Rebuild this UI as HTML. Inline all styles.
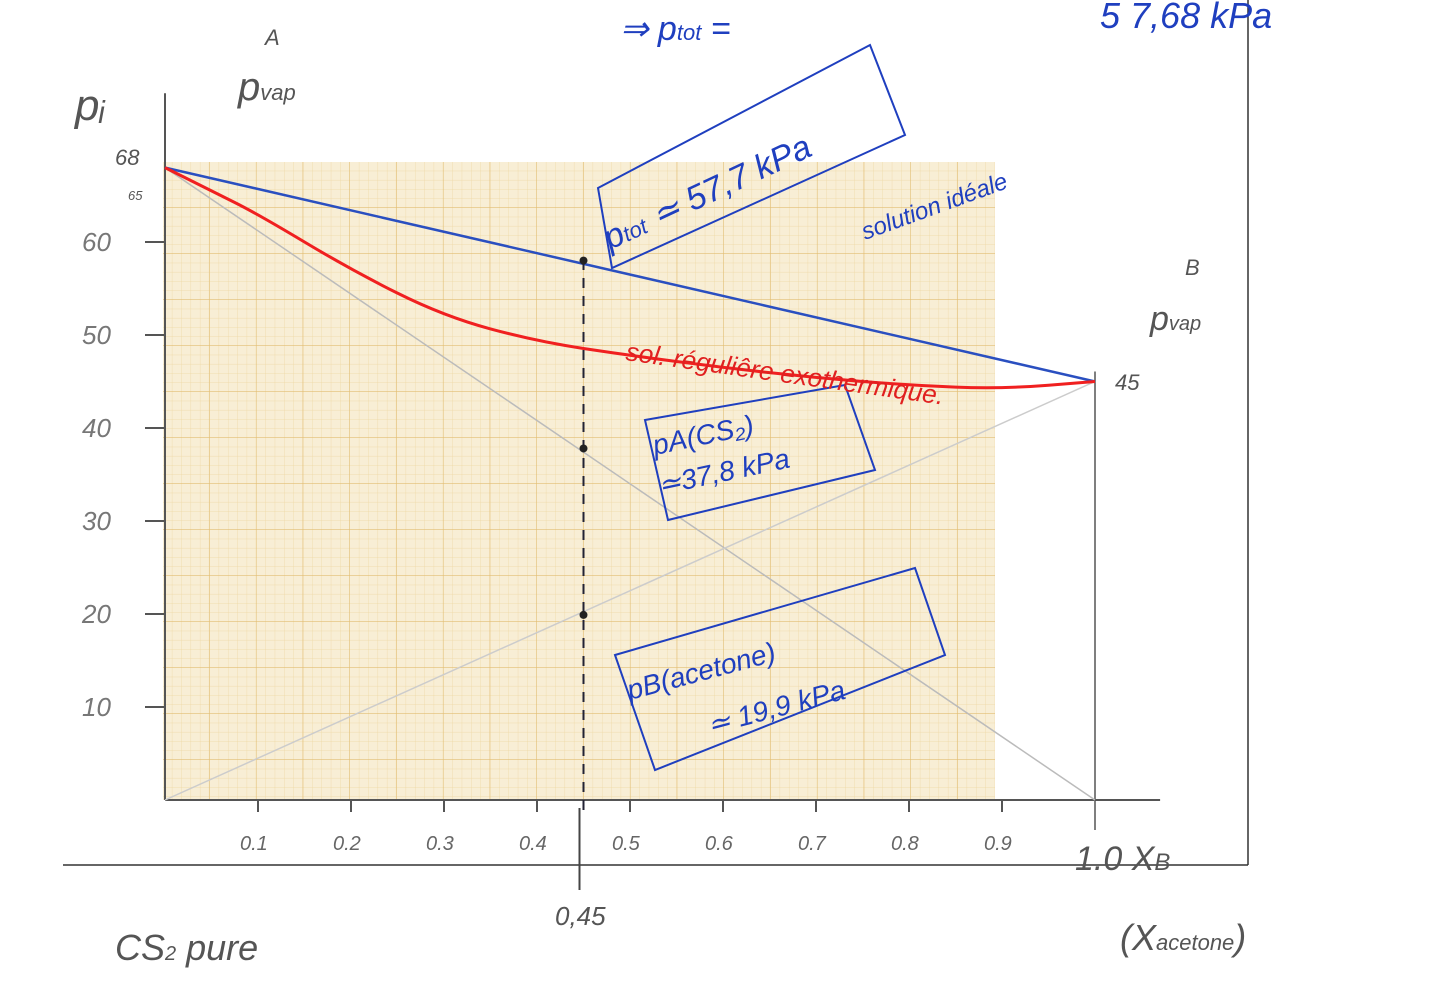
<!DOCTYPE html>
<html><head><meta charset="utf-8"><style>
body{margin:0;background:#fff;}
svg{display:block;font-family:"Liberation Sans",sans-serif;}
</style></head><body>
<svg width="1430" height="996" viewBox="0 0 1430 996">
<defs>
<pattern id="minor" width="9.35" height="9.2" patternUnits="userSpaceOnUse" x="163" y="162">
<path d="M9.35 0V9.2M0 9.2H9.35" stroke="#edd6a0" stroke-width="0.7" fill="none"/>
</pattern>
<pattern id="major" width="46.75" height="46" patternUnits="userSpaceOnUse" x="163" y="162">
<path d="M46.75 0V46M0 46H46.75" stroke="#e2bd72" stroke-width="1.2" fill="none"/>
</pattern>
</defs>
<rect x="163" y="162" width="832" height="638" fill="#f8eed5"/>
<rect x="163" y="162" width="832" height="638" fill="url(#minor)"/>
<rect x="163" y="162" width="832" height="638" fill="url(#major)"/>
<line x1="63" y1="865" x2="1248" y2="865" stroke="#333" stroke-width="1.5"/>
<line x1="1248" y1="0" x2="1248" y2="865" stroke="#333" stroke-width="1.5"/>
<g id="plot"></g>
<g fill="#1f3fbf" font-style="italic">
<text x="620" y="40" font-size="34">⇒ p<tspan font-size="22">tot</tspan> =</text>
<text x="1100" y="28" font-size="36">5 7,68 kPa</text>
<text x="610" y="250" font-size="34" transform="rotate(-25 610 250)">p<tspan font-size="22">tot</tspan> ≃ 57,7 kPa</text>
<polygon points="598,188 870,45 905,135 612,268" fill="none" stroke="#1f3fbf" stroke-width="2"/>
<text x="865" y="240" font-size="24" transform="rotate(-20 865 240)">solution idéale</text>
<text x="655" y="455" font-size="28" transform="rotate(-12 655 455)">pA(CS₂)</text>
<text x="660" y="495" font-size="28" transform="rotate(-12 660 495)">≃37,8 kPa</text>
<polygon points="645,420 845,385 875,470 668,520" fill="none" stroke="#1f3fbf" stroke-width="2"/>
<text x="630" y="700" font-size="28" transform="rotate(-15 630 700)">pB(acetone)</text>
<text x="710" y="735" font-size="28" transform="rotate(-15 710 735)">≃ 19,9 kPa</text>
<polygon points="615,655 915,568 945,655 655,770" fill="none" stroke="#1f3fbf" stroke-width="2"/>
</g>
<text x="625" y="360" font-size="26" fill="#e02020" font-style="italic" transform="rotate(8 625 360)">sol. réguliêre exothermique.</text>
<g fill="#555" font-style="italic">
<text x="75" y="120" font-size="44">pᵢ</text>
<text x="238" y="100" font-size="40">p<tspan font-size="22">vap</tspan></text>
<text x="265" y="45" font-size="22">A</text>
<text x="1150" y="330" font-size="34">p<tspan font-size="20">vap</tspan></text>
<text x="1185" y="275" font-size="22">B</text>
<text x="1075" y="870" font-size="34">1.0 X<tspan font-size="24">B</tspan></text>
<text x="1120" y="950" font-size="36">(X<tspan font-size="22">acetone</tspan>)</text>
<text x="115" y="960" font-size="36">CS<tspan font-size="20">2</tspan> pure</text>
<text x="555" y="925" font-size="26">0,45</text>
<text x="115" y="165" font-size="22">68</text>
<text x="128" y="200" font-size="13">65</text>
<text x="1115" y="390" font-size="22">45</text>
</g>
</svg>
<script>
const xTicks=[0.1,0.2,0.3,0.4,0.5,0.6,0.7,0.8,0.9];
const xTickLabels=["0.1","0.2","0.3","0.4","0.5","0.6","0.7","0.8","0.9"];
const yTicks=[10,20,30,40,50,60];
const yTickLabels=["10","20","30","40","50","60"];
const pA=68, pB=45, xMark=0.45;
const realX=[0,0.05,0.1,0.2,0.3,0.4,0.5,0.6,0.7,0.8,0.9,1.0];
const realY=[68,65.5,63,57,52,49.3,47.8,46.5,45.4,44.6,44.2,45];
const markY=[58,37.8,19.9];
const X=v=>165+v*930, Y=v=>800-v*9.3;
const g=document.getElementById('plot');const NS='http://www.w3.org/2000/svg';
function mk(t,a,p){const e=document.createElementNS(NS,t);for(const k in a)e.setAttribute(k,a[k]);(p||g).appendChild(e);return e;}
let e;
e=mk('line',{x1:X(0),y1:Y(0),x2:X(1.07),y2:Y(0),stroke:'#555','stroke-width':2});

e=mk('line',{x1:X(0),y1:Y(0),x2:X(0),y2:Y(76),stroke:'#555','stroke-width':2});

xTicks.forEach((t,i)=>{mk('line',{x1:X(t),y1:Y(0),x2:X(t),y2:Y(0)+12,stroke:'#555','stroke-width':2});
e=mk('text',{x:X(t)-18,y:850,'font-size':20,fill:'#666','font-style':'italic'});e.textContent=xTickLabels[i];
});
yTicks.forEach((t,i)=>{mk('line',{x1:X(0)-20,y1:Y(t),x2:X(0),y2:Y(t),stroke:'#555','stroke-width':2});
e=mk('text',{x:82,y:Y(t)+9,'font-size':26,fill:'#777','font-style':'italic'});e.textContent=yTickLabels[i];
});
mk('line',{x1:X(1),y1:Y(0)+30,x2:X(1),y2:Y(pB)-10,stroke:'#555','stroke-width':1.5});
e=mk('line',{x1:X(0),y1:Y(pA),x2:X(1),y2:Y(0),stroke:'#bbb','stroke-width':1.5});

e=mk('line',{x1:X(0),y1:Y(0),x2:X(1),y2:Y(pB),stroke:'#ccc','stroke-width':1.5});

e=mk('line',{x1:X(0),y1:Y(pA),x2:X(1),y2:Y(pB),stroke:'#2a4fc0','stroke-width':2.5});

const pts=realX.map((x,i)=>[X(x),Y(realY[i])]);
let d='M'+pts[0][0]+' '+pts[0][1];
for(let i=1;i<pts.length-1;i++){const mx=(pts[i][0]+pts[i+1][0])/2,my=(pts[i][1]+pts[i+1][1])/2;d+=' Q'+pts[i][0]+' '+pts[i][1]+' '+mx+' '+my;}
d+=' L'+pts[pts.length-1][0]+' '+pts[pts.length-1][1];
e=mk('path',{d:d,stroke:'#f02020','stroke-width':3,fill:'none'});

e=mk('line',{x1:X(xMark),y1:Y(0)+10,x2:X(xMark),y2:Y(markY[0])-5,stroke:'#223','stroke-width':2,'stroke-dasharray':'10 8'});

e=mk('line',{x1:X(xMark)-4,y1:890,x2:X(xMark)-4,y2:Y(0)+8,stroke:'#444','stroke-width':2});
markY.forEach(v=>{e=mk('circle',{cx:X(xMark),cy:Y(v),r:4,fill:'#222'});
});
</script>
</body></html>
